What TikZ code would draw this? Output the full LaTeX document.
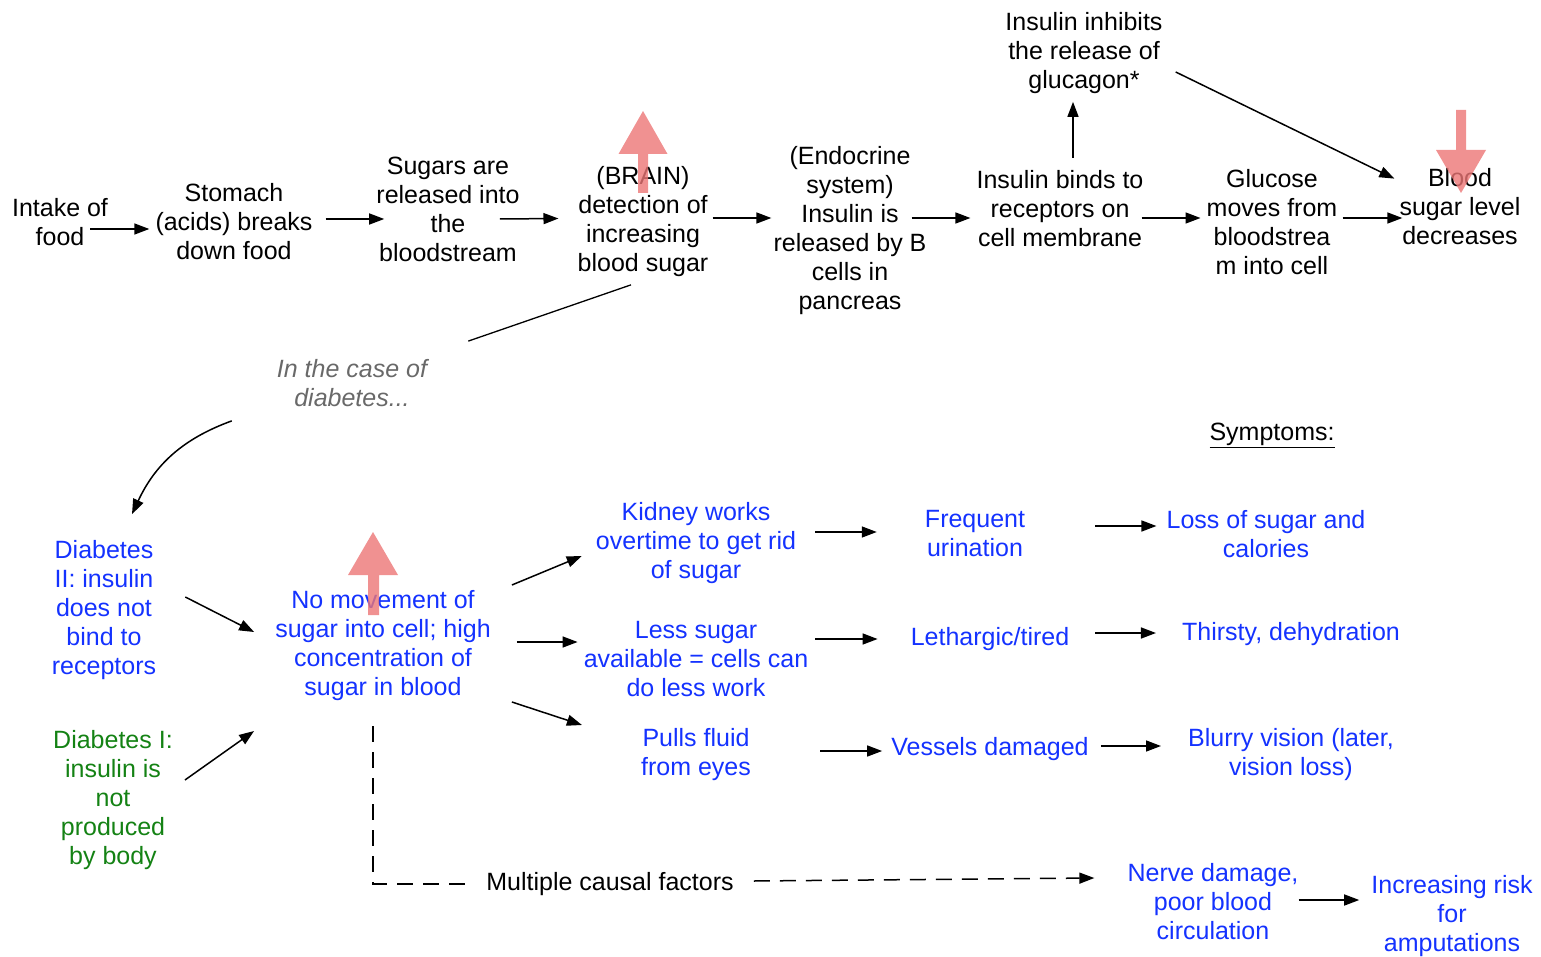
\documentclass[tikz,border=0pt]{standalone}
\usepackage{fontspec}
\setmainfont{Liberation Sans}
\usetikzlibrary{arrows.meta}
\definecolor{symblue}{RGB}{20,50,255}
\definecolor{typegreen}{RGB}{20,130,20}
\definecolor{notegray}{RGB}{105,105,105}
\definecolor{trendred}{RGB}{236,118,118}

\begin{document}
\begin{tikzpicture}[x=1pt, y=-1pt,
  every node/.style = {align=center, inner sep=0pt,
    font=\fontsize{25}{29}\selectfont},
  effect/.style = {text=symblue},
  arr/.style = {line width=1.5pt, -{Triangle[length=15pt,width=11pt]}},
  link/.style = {line width=1.3pt},
  dashlink/.style = {line width=1.5pt, dash pattern=on 16pt off 10pt},
  trend/.style = {fill=trendred, fill opacity=0.8, draw=none}]
  \useasboundingbox (0,0) rectangle (1541,957);

  % normal pathway
  \node (intake) at (60,222) {Intake of\\food};
  \node (stomach) at (234,222) {Stomach\\(acids) breaks\\down food};
  \node (sugars) at (448,209) {Sugars are\\released into\\the\\bloodstream};
  \node (brain) at (643,221.5) {(BRAIN)\\detection of\\increasing\\blood sugar};
  \node (endo) at (850,231) {(Endocrine\\system)\\Insulin is\\released by B\\cells in\\pancreas};
  \node (binds) at (1060,209) {Insulin binds to\\receptors on\\cell membrane};
  \node (inhibits) at (1084,53) {Insulin inhibits\\the release of\\glucagon*};
  \node (glucose) at (1272,222) {Glucose\\moves from\\bloodstrea\\m into cell};
  \node (bloodlow) at (1460,207) {Blood\\sugar level\\decreases};

  \draw[arr] ([xshift=-18pt,yshift=-7pt]intake.east) -- ([xshift=-6pt,yshift=-7pt]stomach.west);
  \draw[arr] ([xshift=13pt,yshift=3pt]stomach.east) -- ([xshift=8pt,yshift=-10pt]sugars.west);
  \draw[arr] ([xshift=-20pt,yshift=-10pt]sugars.east) -- ([xshift=-19pt,yshift=3pt]brain.west);
  \draw[arr] ([xshift=4pt,yshift=3.5pt]brain.east) -- ([xshift=-2pt,yshift=13pt]endo.west);
  \draw[arr] ([xshift=-15pt,yshift=13pt]endo.east) -- ([xshift=-6pt,yshift=-9pt]binds.west);
  \draw[arr] ([xshift=-2pt,yshift=-9pt]binds.east) -- ([xshift=-6pt,yshift=4pt]glucose.west);
  \draw[arr] ([xshift=5pt,yshift=4pt]glucose.east) -- ([xshift=3pt,yshift=-11pt]bloodlow.west);
  \draw[arr] ([xshift=13pt,yshift=13pt]binds.north) -- ([xshift=-11pt,yshift=-8pt]inhibits.south);
  \draw[arr] ([xshift=13pt,yshift=-19pt]inhibits.east) -- ([xshift=-5pt,yshift=-10pt]bloodlow.north west);

  % diabetes
  \node[text=notegray, font=\fontsize{25}{29}\selectfont\itshape] (casenote) at (352,383) {In the case of\\diabetes...};
  \node (symptoms) at (1272,435) {\underline{Symptoms:}};
  \node[effect] (typetwo) at (104,610) {Diabetes\\II: insulin\\does not\\bind to\\receptors};
  \node[text=typegreen] (typeone) at (113,800) {Diabetes I:\\insulin is\\not\\produced\\by body};
  \node[effect] (nomove) at (383,646) {No movement of\\sugar into cell; high\\concentration of\\sugar in blood};
  \node[effect] (kidney) at (696,543) {Kidney works\\overtime to get rid\\of sugar};
  \node[effect] (lesssugar) at (696,659) {Less sugar\\available = cells can\\do less work};
  \node[effect] (pulls) at (696,755) {Pulls fluid\\from eyes};
  \node[effect] (frequent) at (975,534) {Frequent\\urination};
  \node[effect] (lethargic) at (990,639) {Lethargic/tired};
  \node[effect] (vessels) at (990,749) {Vessels damaged};
  \node[effect] (losscal) at (1266,534) {Loss of sugar and\\calories};
  \node[effect] (thirsty) at (1291,634) {Thirsty, dehydration};
  \node[effect] (blurry) at (1291,755) {Blurry vision (later,\\vision loss)};
  \node (multiple) at (610,884) {Multiple causal factors};
  \node[effect] (nerve) at (1213,902) {Nerve damage,\\poor blood\\circulation};
  \node[effect] (amput) at (1452,916) {Increasing risk\\for\\amputations};

  \draw[link] ([xshift=-12pt,yshift=-8pt]brain.south) -- ([xshift=41pt,yshift=18pt]casenote.north east);
  \draw[arr] ([xshift=-45pt,yshift=-14pt]casenote.south west) to[out=200,in=65] ([xshift=28pt,yshift=26pt]typetwo.north);
  \draw[arr] ([xshift=29pt,yshift=13pt]typetwo.east) -- ([xshift=-21pt,yshift=14pt]nomove.west);
  \draw[arr] ([xshift=12pt,yshift=20pt]typeone.east) -- ([xshift=-21pt,yshift=-85pt]nomove.west);
  \draw[arr] ([xshift=21pt,yshift=61pt]nomove.east) -- ([xshift=-14pt,yshift=-13pt]kidney.west);
  \draw[arr] ([xshift=26pt,yshift=4pt]nomove.east) -- ([xshift=-6pt,yshift=17pt]lesssugar.west);
  \draw[arr] ([xshift=21pt,yshift=-56pt]nomove.east) -- ([xshift=-59pt,yshift=30pt]pulls.west);
  \draw[arr] ([xshift=19pt,yshift=11pt]kidney.east) -- ([xshift=-48pt,yshift=2pt]frequent.west);
  \draw[arr] ([xshift=70pt,yshift=8pt]frequent.east) -- ([xshift=-10pt,yshift=8pt]losscal.west);
  \draw[arr] ([xshift=7pt,yshift=20pt]lesssugar.east) -- ([xshift=-33pt]lethargic.west);
  \draw[arr] ([xshift=26pt,yshift=6pt]lethargic.east) -- ([xshift=-26pt,yshift=1pt]thirsty.west);
  \draw[arr] ([xshift=69pt,yshift=4pt]pulls.east) -- ([xshift=-9pt,yshift=-2pt]vessels.west);
  \draw[arr] ([xshift=12pt,yshift=3pt]vessels.east) -- ([xshift=-27pt,yshift=9pt]blurry.west);
  \draw[arr] ([yshift=2pt]nerve.east) -- ([xshift=-12pt,yshift=16pt]amput.west);
  \draw[dashlink] ([xshift=-10pt,yshift=-25pt]nomove.south) |- ([xshift=-14pt]multiple.west);
  \draw[dashlink, -{Triangle[length=15pt,width=11pt]}] ([xshift=20pt,yshift=3pt]multiple.east) -- ([xshift=-33pt,yshift=24pt]nerve.west);

  % rising / falling blood sugar
  \fill[trend] (643,111) -- (667.5,154) -- (648,154) -- (648,193) -- (638,193)
    -- (638,154) -- (618.5,154) -- cycle;
  \fill[trend] (1461,193) -- (1486,150) -- (1466,150) -- (1466,110) -- (1456,110)
    -- (1456,150) -- (1436,150) -- cycle;
  \fill[trend] (373,532) -- (398,575) -- (379,575) -- (379,615) -- (368,615)
    -- (368,575) -- (348,575) -- cycle;
\end{tikzpicture}
\end{document}
